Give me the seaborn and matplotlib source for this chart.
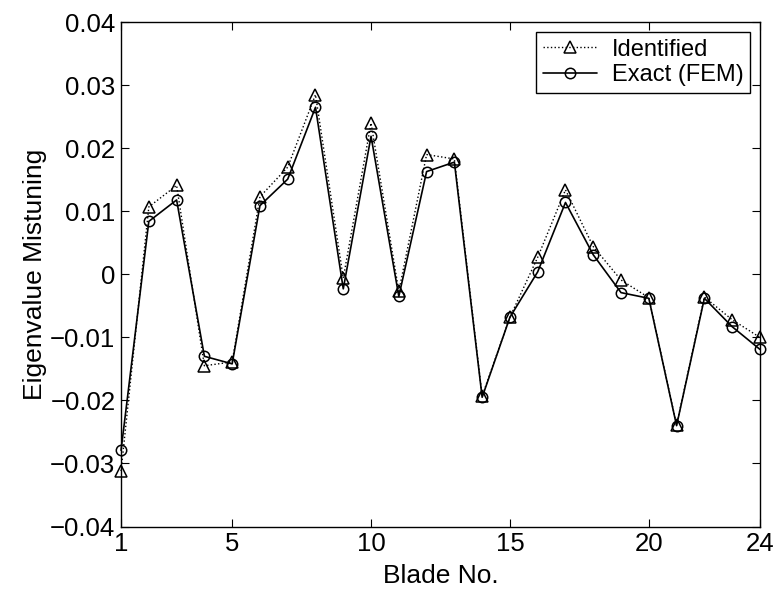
import numpy as np
import pandas as pd
import seaborn as sns
import matplotlib
matplotlib.use("Agg")
import matplotlib.pyplot as plt

# Blade numbers and eigenvalue mistuning
blades = list(range(1, 25))
identified = [-0.0312, 0.0107, 0.0141, -0.0145, -0.0139, 0.0123, 0.0170, 0.0285,
              -0.0006, 0.0240, -0.0027, 0.0190, 0.0183, -0.0193, -0.0068, 0.0027,
              0.0134, 0.0044, -0.0009, -0.0037, -0.0239, -0.0036, -0.0072, -0.0100]
exact = [-0.0279, 0.0084, 0.0118, -0.0130, -0.0142, 0.0109, 0.0151, 0.0265,
         -0.0023, 0.0219, -0.0035, 0.0163, 0.0178, -0.0195, -0.0068, 0.0004,
         0.0114, 0.0031, -0.0029, -0.0038, -0.0240, -0.0038, -0.0083, -0.0119]
xticks = [1, 5, 10, 15, 20, 24]
yticks = [-0.04, -0.03, -0.02, -0.01, 0, 0.01, 0.02, 0.03, 0.04]
ytick_labels = ["\u22120.04", "\u22120.03", "\u22120.02", "\u22120.01", "0",
                "0.01", "0.02", "0.03", "0.04"]

df = pd.DataFrame({"blade": blades, "Identified": identified, "Exact (FEM)": exact})

sns.set_style("ticks")
plt.rcParams['font.family'] = ['Liberation Sans', 'DejaVu Sans']
plt.rcParams['xtick.direction'] = 'in'
plt.rcParams['ytick.direction'] = 'in'

fig = plt.figure(figsize=(7.81, 5.99), dpi=100)
ax = fig.add_axes([0.155, 0.121, 0.818, 0.842])

sns.lineplot(data=df, x="blade", y="Identified", ax=ax, color="black", linestyle=":",
             linewidth=1.0, marker="^", markersize=8.5, markerfacecolor="none",
             markeredgecolor="black", markeredgewidth=1.1, label="Identified",
             clip_on=False)
sns.lineplot(data=df, x="blade", y="Exact (FEM)", ax=ax, color="black", linestyle="-",
             linewidth=1.2, marker="o", markersize=7.5, markerfacecolor="none",
             markeredgecolor="black", markeredgewidth=1.1, label="Exact (FEM)",
             clip_on=False)

ax.set_xlim(1, 24)
ax.set_ylim(-0.04, 0.04)
ax.set_xticks(xticks)
ax.set_yticks(yticks)
ax.set_yticklabels(ytick_labels)
ax.tick_params(axis="both", labelsize=18.5, length=6, width=0.8, top=True, right=True,
               color="black", labelcolor="black", pad=4)
for s in ax.spines.values():
    s.set_linewidth(1.0)
    s.set_color("black")
ax.set_xlabel("Blade No.", fontsize=19, labelpad=6, color="black")
ax.set_ylabel("Eigenvalue Mistuning", fontsize=19, labelpad=2, color="black")

leg = ax.legend(loc="upper right", fontsize=17, frameon=True, fancybox=False,
                edgecolor="black", framealpha=1, borderpad=0.3, handlelength=2.3,
                borderaxespad=0.4, labelspacing=0.15, handletextpad=0.6)
leg.get_frame().set_linewidth(1.0)
for t in leg.get_texts():
    t.set_color("black")

fig.savefig("out.png", dpi=100)
